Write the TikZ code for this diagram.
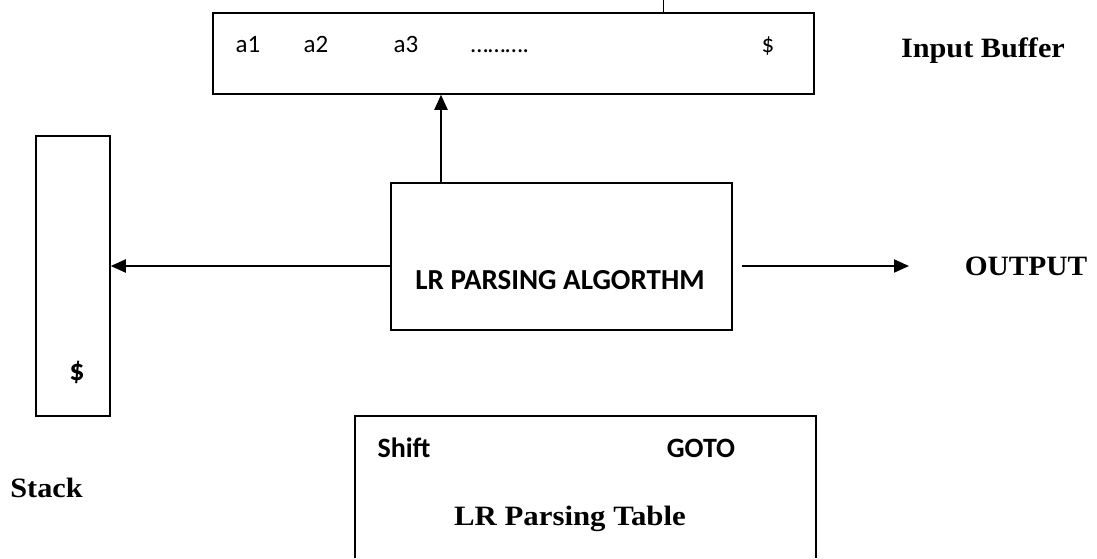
\documentclass[tikz,border=0pt]{standalone}
\usepackage{fontspec}
\usetikzlibrary{arrows.meta}
\newfontfamily\calfont{Carlito}
\newfontfamily\serfont{Liberation Serif}
\begin{document}
\begin{tikzpicture}[x=1pt,y=-1pt,
  box/.style={draw,line width=1.5pt,inner sep=0pt},
  conn/.style={line width=2pt,-{Triangle[length=15pt,width=13pt]}},
  cal/.style={inner sep=0pt,anchor=base,font=\calfont\fontsize{25}{29}\selectfont},
  calb/.style={inner sep=0pt,anchor=base,font=\calfont\bfseries\fontsize{28}{32}\selectfont},
  ser/.style={inner sep=0pt,anchor=base,font=\serfont\bfseries\fontsize{28}{32}\selectfont}]
\useasboundingbox (0,0) rectangle (1097,558);
% boxes
\node[box,minimum width=601pt,minimum height=81pt] (inp) at (513.5,53.5) {};
\node[box,minimum width=74pt,minimum height=280pt] (stk) at (73,276) {};
\node[box,minimum width=341pt,minimum height=147pt] (alg) at (561.5,256.5) {};
\node[inner sep=0pt,minimum width=461pt,minimum height=142pt] (tbl) at (585.5,487) {};
\draw[line width=1.5pt] (tbl.south west) -- (tbl.north west) -- (tbl.north east) -- (tbl.south east);
% top tick
\coordinate (tick) at (663,0);
\draw[line width=1pt] (tick) -- (tick |- inp.north);
% texts in input buffer
\node[cal] (a1) at (248,52) {a1};
\node[cal] (a2) at (316,52) {a2};
\node[cal] (a3) at (406,52) {a3};
\node[cal] (dots) at (500,52) {……….};
\node[cal] (idol) at (768,52) {\$};
\node[ser] (ib) at (983,57) {\scalebox{1.08}[1]{Input Buffer}};
% stack
\node[calb,font=\calfont\bfseries\fontsize{30}{34}\selectfont] (sdol) at (77,380) {\$};
\node[ser] (stl) at (46.5,497) {\scalebox{1.08}[1]{Stack}};
% algorithm
\node[calb,font=\calfont\bfseries\fontsize{29}{33}\selectfont] (algt) at (560,289) {LR PARSING ALGORTHM};
\coordinate (out) at (909,266);
\node[ser] (outt) at (1026,275) {\scalebox{1.05}[1]{OUTPUT}};
% table
\node[calb] (shift) at (404,457) {Shift};
\node[calb] (goto) at (701,457) {GOTO};
\node[ser] (tblt) at (570,525) {\scalebox{1.1}[1]{LR Parsing Table}};
% connectors
\draw[conn] (441,183) coordinate (upst) -- (upst |- inp.south);
\draw[conn] (alg.west |- 0,266) -- (stk.east |- 0,266);
\draw[conn] (alg.east |- 0,266) ++(9,0) -- (out);
\end{tikzpicture}
\end{document}
